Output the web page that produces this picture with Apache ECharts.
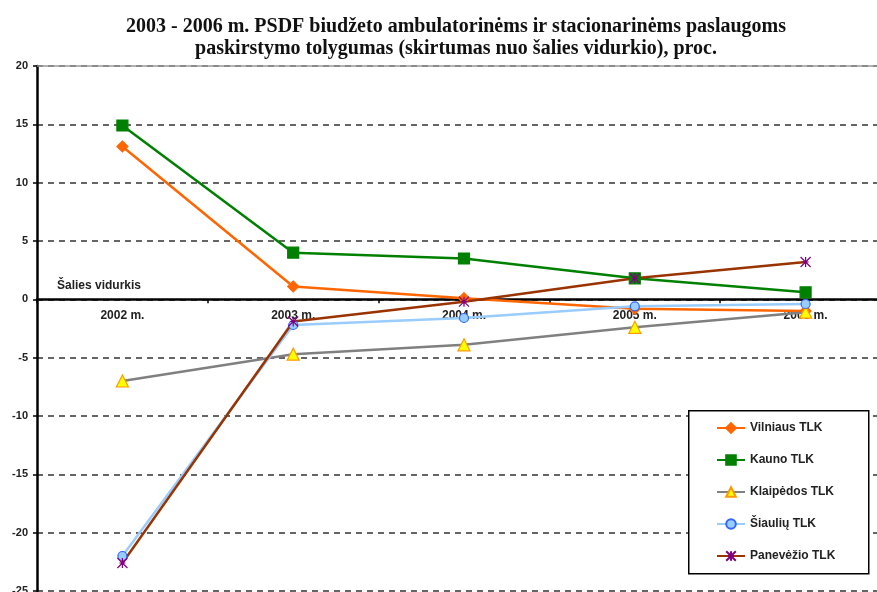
<!DOCTYPE html>
<html>
<head>
<meta charset="utf-8">
<script src="https://cdn.jsdelivr.net/npm/echarts@6/dist/echarts.min.js"></script>
<style>html,body{margin:0;padding:0;background:#fff}#c{width:877px;height:592px}</style>
</head>
<body>
<div id="c"></div>
<script>
var categories = ['2002 m.', '2003 m.', '2004 m.', '2005 m.', '2006 m.'];
var vilniaus = [13.1, 1.1, 0.1, -0.8, -1.0];
var kauno = [14.9, 4.0, 3.5, 1.8, 0.6];
var klaipedos = [-7.0, -4.7, -3.9, -2.4, -1.1];
var siauliu = [-22.0, -2.2, -1.6, -0.6, -0.4];
var panevezio = [-22.6, -1.9, -0.2, 1.8, 3.2];
var seriesNames = ['Vilniaus TLK', 'Kauno TLK', 'Klaipėdos TLK', 'Šiaulių TLK', 'Panevėžio TLK'];
var titleLines = ['2003 - 2006 m. PSDF biudžeto ambulatorinėms ir stacionarinėms paslaugoms', 'paskirstymo tolygumas (skirtumas nuo šalies vidurkio), proc.'];
var avgLabel = 'Šalies vidurkis';
var yMin = -25, yMax = 20, yStep = 5;

var gridTop = 66, gridHeight = 525;
var zeroOffset = gridHeight * (0 - yMin) / (yMax - yMin);

var chart = echarts.init(document.getElementById('c'));
var lbl = {fontFamily: 'Arial, Liberation Sans', fontWeight: 'bold', fontSize: 12, color: '#222'};
var starPath = 'path://M0,0L10,10M10,0L0,10M5,0L5,10M2,5L8,5';
function mk(name, data, color, symbol, size, fill, border) {
  return {
    name: name, type: 'line', data: data, symbol: symbol, symbolSize: size,
    lineStyle: {color: color, width: 2.5},
    itemStyle: {color: fill, borderColor: border, borderWidth: 1.2},
    z: 3
  };
}
var series = [
  mk(seriesNames[0], vilniaus, '#FF6600', 'diamond', 11, '#FF6600', '#FF6600'),
  mk(seriesNames[1], kauno, '#008000', 'rect', 11, '#008000', '#008000'),
  mk(seriesNames[2], klaipedos, '#808080', 'triangle', 12, '#FFFF00', '#FF9900'),
  mk(seriesNames[3], siauliu, '#99CCFF', 'circle', 9, '#99CCFF', '#3366FF'),
  mk(seriesNames[4], panevezio, '#993300', starPath, 10, 'transparent', '#800080')
];
series[0].markLine = {
  silent: true, symbol: 'none', label: {show: false},
  lineStyle: {color: '#999', type: 'solid', width: 1.5},
  data: [{yAxis: yMax}]
};
chart.setOption({
  animation: false,
  title: {
    text: titleLines.join('\n'), left: 451, top: 11, textAlign: 'center',
    textStyle: {fontFamily: 'Liberation Serif', fontWeight: 'bold', fontSize: 20, lineHeight: 22, color: '#111'}
  },
  grid: {left: 37, top: gridTop, width: 854, height: gridHeight, containLabel: false, outerBoundsMode: 'none'},
  xAxis: {
    type: 'category', data: categories, boundaryGap: true, position: 'bottom',
    offset: -zeroOffset,
    axisLine: {onZero: false, lineStyle: {color: '#000', width: 2.5}},
    axisTick: {show: true, length: 4, lineStyle: {color: '#000', width: 1.5}},
    axisLabel: Object.assign({margin: 10}, lbl)
  },
  yAxis: {
    type: 'value', min: yMin, max: yMax, interval: yStep,
    axisLine: {show: true, onZero: false, lineStyle: {color: '#000', width: 2.5}},
    axisTick: {show: true, length: 4, lineStyle: {color: '#000', width: 1.5}},
    axisLabel: Object.assign({margin: 9}, lbl, {fontSize: 11}),
    splitLine: {show: true, lineStyle: {color: '#333', type: [6, 5], width: 1.5}}
  },
  legend: {
    orient: 'vertical', left: 716, top: 422, padding: 0, z: 20,
    itemWidth: 28, itemHeight: 12, itemGap: 20,
    textStyle: lbl,
    data: seriesNames
  },
  graphic: [
    {type: 'rect', left: 688, top: 410, shape: {width: 180, height: 163}, style: {fill: '#fff', stroke: '#000', lineWidth: 1.5}, z: 5},
    {type: 'text', left: 57, top: 280, style: {text: avgLabel, font: 'bold 12px Arial', fill: '#222'}, z: 5}
  ],
  series: series
});
</script>
</body>
</html>
